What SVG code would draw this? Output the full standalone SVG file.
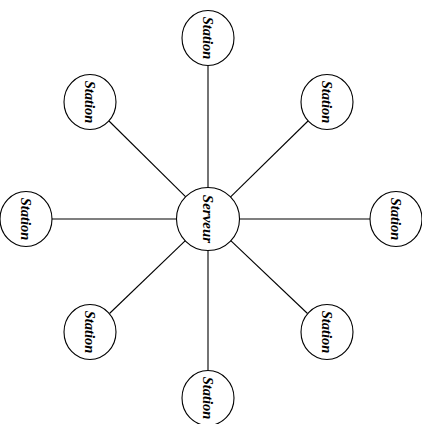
<svg xmlns="http://www.w3.org/2000/svg" width="422" height="424" viewBox="0 0 422 424">
<style>
.n{fill:#fff;stroke:#000;stroke-width:1.1}
.t{font-family:"Liberation Serif","Times New Roman",serif;font-weight:bold;font-style:italic;font-size:14.5px;text-anchor:middle;dominant-baseline:central;fill:#000}
.s{font-size:15px}
.c line{stroke:#000;stroke-width:1.1}
</style>
<rect width="422" height="424" fill="#fff"/>
<g class="c" id="connectors">
<line x1="208" y1="188" x2="208" y2="65.5"/>
<line x1="208" y1="250" x2="208" y2="370.5"/>
<line x1="177" y1="219" x2="52" y2="219"/>
<line x1="239" y1="219" x2="370" y2="219"/>
<line x1="186" y1="197.2" x2="109" y2="121"/>
<line x1="230.1" y1="197.3" x2="308" y2="121"/>
<line x1="185.6" y1="240.4" x2="109.5" y2="313.5"/>
<line x1="230.5" y1="240.4" x2="307.5" y2="313.5"/>
</g>
<g id="serveur"><circle class="n" cx="208" cy="219" r="31.5"/><text class="t s" transform="translate(208 219) rotate(90)">Serveur</text></g>
<g id="station-top"><ellipse class="n" cx="208" cy="38" rx="26" ry="27.5"/><text class="t" transform="translate(208 38) rotate(90)">Station</text></g>
<g id="station-bottom"><ellipse class="n" cx="208" cy="398" rx="26" ry="27.5"/><text class="t" transform="translate(208 398) rotate(90)">Station</text></g>
<g id="station-left"><ellipse class="n" cx="26" cy="219" rx="26" ry="27.5"/><text class="t" transform="translate(26 219) rotate(90)">Station</text></g>
<g id="station-right"><ellipse class="n" cx="396" cy="219" rx="26" ry="27.5"/><text class="t" transform="translate(396 219) rotate(90)">Station</text></g>
<g id="station-tl"><ellipse class="n" cx="90" cy="102" rx="26" ry="27.5"/><text class="t" transform="translate(90 102) rotate(90)">Station</text></g>
<g id="station-tr"><ellipse class="n" cx="327" cy="102" rx="26" ry="27.5"/><text class="t" transform="translate(327 102) rotate(90)">Station</text></g>
<g id="station-bl"><ellipse class="n" cx="90" cy="332" rx="26" ry="27.5"/><text class="t" transform="translate(90 332) rotate(90)">Station</text></g>
<g id="station-br"><ellipse class="n" cx="327" cy="332" rx="26" ry="27.5"/><text class="t" transform="translate(327 332) rotate(90)">Station</text></g>
</svg>
